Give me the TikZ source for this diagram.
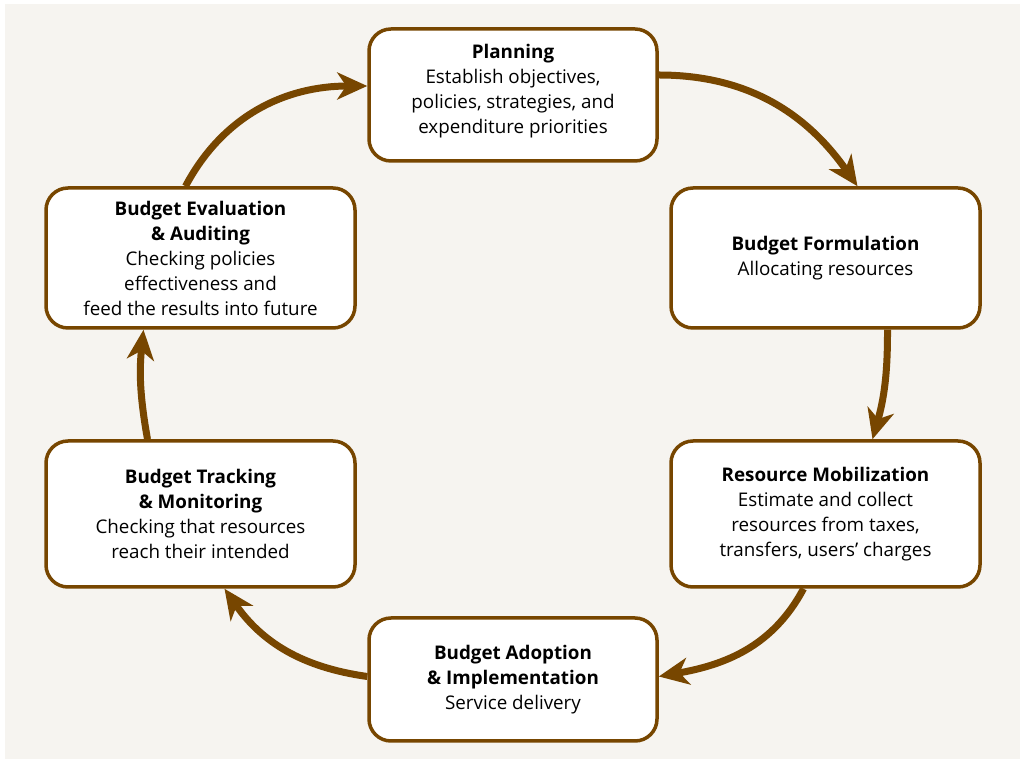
\documentclass[tikz,border=0pt]{standalone}
\usepackage{fontspec}
\setmainfont{Open Sans}
\usetikzlibrary{arrows.meta}
\definecolor{cyclebrown}{HTML}{774600}
\definecolor{paper}{HTML}{F6F4F0}
\begin{document}
\begin{tikzpicture}[x=1pt,y=1pt,
		stage/.style={draw=cyclebrown,line width=3.5pt,fill=white,rounded corners=22pt,align=center,
			font=\fontsize{18.8}{25}\selectfont,inner sep=0pt},
		flow/.style={draw=cyclebrown,line width=7pt,-{Stealth[length=30pt,width=27pt,inset=9pt]}}]
			\useasboundingbox (0,0) rectangle (1023,760);
			\fill[paper] (5,1) rectangle (1020,756);
			\node[stage,minimum width=288pt,minimum height=132pt] (plan) at (513,665) {\textbf{Planning}\\Establish objectives,\\policies, strategies, and\\expenditure priorities\\[-12pt]};
			\node[stage,minimum width=309pt,minimum height=140pt] (form) at (825.5,502) {\textbf{Budget Formulation}\\Allocating resources};
			\node[stage,minimum width=309pt,minimum height=146pt] (mob) at (825.5,246) {\textbf{Resource Mobilization}\\Estimate and collect\\resources from taxes,\\transfers, users' charges};
			\node[stage,minimum width=288pt,minimum height=123pt] (adopt) at (513,80.5) {\textbf{Budget Adoption}\\\textbf{\& Implementation}\\Service delivery};
			\node[stage,minimum width=309pt,minimum height=146pt] (track) at (200.5,246) {\textbf{Budget Tracking}\\\textbf{\& Monitoring}\\Checking that resources\\reach their intended};
			\node[stage,minimum width=309pt,minimum height=140pt] (eval) at (200.5,502) {\textbf{Budget Evaluation}\\\textbf{\& Auditing}\\Checking policies\\effectiveness and\\feed the results into future};
			% cycle arrows
			\draw[flow] ([xshift=-15pt]eval.north) to[out=62,in=180] ([yshift=9pt]plan.west);
			\draw[flow] ([yshift=20pt]plan.east) to[out=0,in=125] ([xshift=32pt]form.north);
			\draw[flow] ([xshift=62pt]form.south) to[bend left=8] ([xshift=47pt]mob.north);
			\draw[flow] ([xshift=-22pt]mob.south) to[out=-118,in=10] ([yshift=3pt]adopt.east);
			\draw[flow] ([yshift=3pt]adopt.west) to[out=172,in=-55] ([xshift=24pt]track.south);
			\draw[flow] ([xshift=-53pt]track.north) to[bend left=8] ([xshift=-57pt]eval.south);
		\end{tikzpicture}
\end{document}
